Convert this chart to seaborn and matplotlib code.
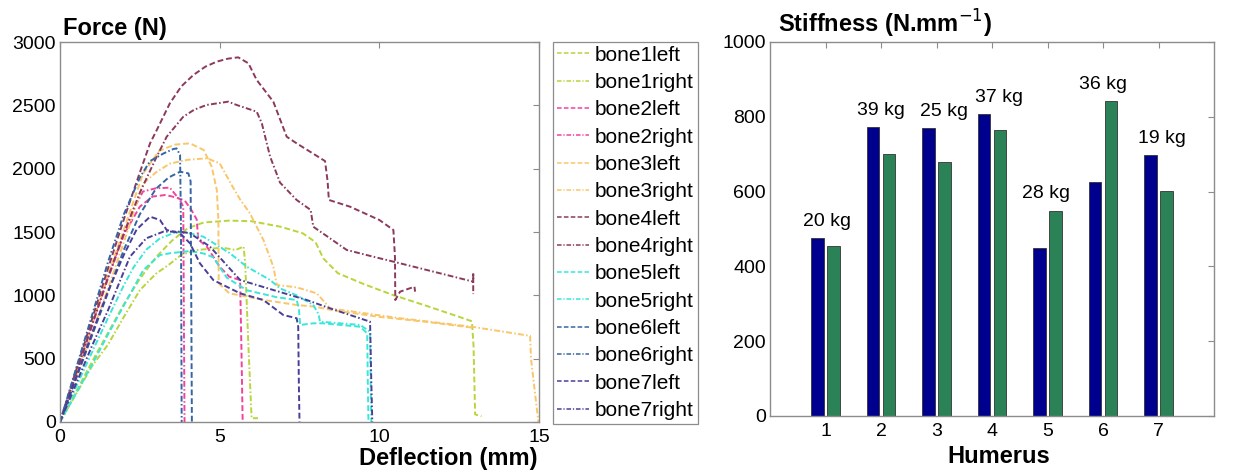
import matplotlib
matplotlib.use("Agg")
import matplotlib.pyplot as plt
import numpy as np
import pandas as pd
import seaborn as sns

# ---------------- data: force-deflection curves (mm, N) ----------------
bone1left_x = [0, 1.0, 2.0, 2.5, 3.0, 3.5, 4.0, 4.5, 5.3, 6.0, 6.9, 7.6, 8.0, 8.25, 8.7, 9.5, 10.4, 11.5, 12.5, 12.9, 12.95, 13.0, 13.2]
bone1left_y = [0, 475, 930, 1130, 1300, 1430, 1530, 1575, 1590, 1585, 1542, 1490, 1420, 1290, 1175, 1090, 1005, 915, 830, 795, 600, 60, 45]

bone1right_x = [0, 1.0, 1.5, 2.0, 2.5, 3.0, 3.4, 3.8, 4.3, 4.8, 5.1, 5.5, 5.75, 5.8, 5.9, 6.0, 6.2]
bone1right_y = [0, 440, 610, 830, 1040, 1170, 1240, 1320, 1358, 1370, 1376, 1358, 1385, 1250, 600, 30, 30]

bone2left_x = [0, 1.0, 1.5, 2.0, 2.5, 2.9, 3.3, 3.6, 3.9, 4.1, 4.28, 4.33, 4.6, 5.0, 5.3, 5.64, 5.68, 5.72]
bone2left_y = [0, 770, 1150, 1480, 1700, 1780, 1792, 1775, 1750, 1680, 1600, 1440, 1384, 1226, 1147, 1121, 600, 0]

bone2right_x = [0, 1.0, 1.5, 2.0, 2.3, 2.6, 3.0, 3.44, 3.6, 3.76, 3.86, 3.88, 3.9]
bone2right_y = [0, 760, 1130, 1480, 1680, 1820, 1845, 1850, 1800, 1750, 1700, 800, 0]

bone3left_x = [0, 1.0, 1.5, 2.0, 2.6, 3.1, 3.6, 4.07, 4.5, 4.75, 4.91, 4.96, 4.97, 5.3, 6.4, 7.4, 8.0, 8.5, 10.0, 11.5, 12.9]
bone3left_y = [0, 780, 1160, 1520, 1960, 2140, 2190, 2200, 2147, 2016, 1832, 1595, 1095, 1016, 963, 924, 910, 884, 830, 790, 745]

bone3right_x = [0, 1.0, 1.5, 2.0, 2.6, 3.0, 3.44, 4.0, 4.6, 5.0, 5.4, 5.65, 5.95, 6.05, 6.37, 6.68, 6.79, 7.41, 8.04, 8.46, 10.6, 12.9, 14.72, 14.75, 14.98]
bone3right_y = [0, 700, 1050, 1420, 1880, 1970, 2040, 2070, 2082, 2042, 1860, 1753, 1647, 1595, 1437, 1226, 1082, 1063, 1016, 897, 821, 752, 680, 500, 0]

bone4left_x = [0, 1.0, 1.5, 2.0, 2.5, 2.82, 3.03, 3.44, 3.8, 4.18, 4.55, 4.91, 5.25, 5.58, 5.9, 6.16, 6.68, 7.1, 7.41, 8.3, 8.38, 8.42, 9.08, 10.0, 10.44, 10.49, 10.5, 10.65, 11.1, 11.12]
bone4left_y = [0, 810, 1210, 1600, 1970, 2200, 2305, 2516, 2650, 2740, 2805, 2845, 2868, 2879, 2832, 2700, 2529, 2252, 2200, 2060, 1900, 1753, 1700, 1595, 1516, 1300, 963, 1029, 1068, 1029]

bone4right_x = [0, 1.0, 1.5, 2.0, 2.5, 3.0, 3.34, 3.86, 4.2, 4.59, 5.27, 5.53, 6.16, 6.32, 6.58, 6.89, 7.41, 7.85, 7.93, 8.98, 9.81, 10.44, 11.9, 12.94, 12.94, 12.94]
bone4right_y = [0, 765, 1140, 1490, 1810, 2080, 2252, 2410, 2465, 2503, 2529, 2503, 2450, 2358, 2095, 1890, 1753, 1674, 1542, 1358, 1305, 1266, 1174, 1108, 1180, 1010]

bone5left_x = [0, 1.0, 1.5, 2.0, 2.61, 3.13, 3.44, 4.07, 4.5, 4.8, 5.22, 5.85, 6.79, 7.41, 7.48, 7.52, 7.93, 8.25, 9.4, 9.62, 9.64, 9.66]
bone5left_y = [0, 450, 690, 920, 1200, 1318, 1332, 1350, 1330, 1300, 1140, 1040, 985, 963, 900, 766, 779, 779, 752, 700, 300, 0]

bone5right_x = [0, 1.0, 1.5, 2.0, 2.3, 2.7, 3.13, 3.6, 3.86, 4.49, 5.32, 5.85, 6.58, 6.89, 7.41, 7.93, 8.1, 8.14, 9.4, 9.71, 9.73, 9.75]
bone5right_y = [0, 550, 820, 1080, 1220, 1360, 1450, 1495, 1503, 1463, 1332, 1226, 1121, 1055, 1000, 924, 850, 792, 766, 713, 300, 0]

bone6left_x = [0, 1.0, 1.5, 2.0, 2.5, 3.0, 3.4, 3.76, 4.02, 4.09, 4.11, 4.13]
bone6left_y = [0, 680, 1020, 1360, 1640, 1840, 1930, 1976, 1963, 1900, 1000, 0]

bone6right_x = [0, 1.0, 1.5, 2.0, 2.5, 2.82, 3.24, 3.55, 3.65, 3.76, 3.79, 3.81]
bone6right_y = [0, 840, 1260, 1640, 1930, 2060, 2120, 2155, 2160, 2108, 1500, 0]

bone7left_x = [0, 1.0, 1.5, 2.0, 2.4, 2.82, 3.13, 3.34, 3.76, 4.07, 4.38, 4.8, 5.22, 5.64, 6.37, 6.99, 7.41, 7.46, 7.48, 7.5]
bone7left_y = [0, 700, 1030, 1320, 1520, 1621, 1595, 1516, 1490, 1411, 1253, 1121, 1068, 1016, 963, 845, 819, 752, 300, 0]

bone7right_x = [0, 1.0, 1.5, 2.19, 2.7, 3.24, 3.76, 4.07, 4.7, 5.64, 6.68, 7.73, 8.46, 9.71, 9.75, 9.78]
bone7right_y = [0, 600, 880, 1305, 1450, 1503, 1503, 1490, 1384, 1121, 1042, 963, 897, 792, 300, 0]

curve_names = ["bone1left", "bone1right", "bone2left", "bone2right", "bone3left", "bone3right",
               "bone4left", "bone4right", "bone5left", "bone5right", "bone6left", "bone6right",
               "bone7left", "bone7right"]
curve_x = [bone1left_x, bone1right_x, bone2left_x, bone2right_x, bone3left_x, bone3right_x,
           bone4left_x, bone4right_x, bone5left_x, bone5right_x, bone6left_x, bone6right_x,
           bone7left_x, bone7right_x]
curve_y = [bone1left_y, bone1right_y, bone2left_y, bone2right_y, bone3left_y, bone3right_y,
           bone4left_y, bone4right_y, bone5left_y, bone5right_y, bone6left_y, bone6right_y,
           bone7left_y, bone7right_y]

# ---------------- data: stiffness bars ----------------
humerus = ["1", "2", "3", "4", "5", "6", "7"]
stiffness_left = [476, 773, 770, 807, 449, 626, 698]
stiffness_right = [454, 701, 678, 764, 549, 842, 601]
mass_labels = ["20 kg", "39 kg", "25 kg", "37 kg", "28 kg", "36 kg", "19 kg"]

# ---------------- styles ----------------
bone_colors = ["#b7d63c", "#f0449c", "#f9c66a", "#8b3a5c", "#3ae6d9", "#3465a4", "#4a3f98"]
dash_style = (0, (3.0, 1.5))
dashdot_style = (0, (3.0, 1.2, 0.8, 1.2))
bar_colors = ["#00008f", "#2b8257"]
label_dx = [0.03, -0.01, 0.13, 0.13, -0.03, 0.0, 0.07]

sns.set_style("white")
plt.rcParams["font.family"] = ["Liberation Sans", "DejaVu Sans"]
plt.rcParams["text.color"] = "black"
plt.rcParams["mathtext.default"] = "bf"

W, H = 1259, 471
fig = plt.figure(figsize=(W / 100, H / 100), dpi=100)
ax1 = fig.add_axes([60 / W, 1 - 422 / H, 479 / W, 380 / H])
ax2 = fig.add_axes([770 / W, 1 - 416 / H, 444 / W, 374 / H])

# ---- left panel: curves ----
for i, (name, xs, ys) in enumerate(zip(curve_names, curve_x, curve_y)):
    ls = dash_style if name.endswith("left") else dashdot_style
    sns.lineplot(x=xs, y=ys, ax=ax1, color=bone_colors[i // 2], linestyle=ls,
                 linewidth=1.4, sort=False, estimator=None, label=name)

ax1.set_xlim(0, 15)
ax1.set_ylim(0, 3000)
ax1.set_xticks([0, 5, 10, 15])
ax1.set_yticks(np.arange(0, 3001, 500))
ax1.set_xlabel("")
ax1.set_ylabel("")

leg = ax1.legend(loc="upper left", bbox_to_anchor=(553 / W, 1 - 41.5 / H),
                 bbox_transform=fig.transFigure, borderaxespad=0, fontsize=15,
                 handlelength=1.55, handletextpad=0.25, labelspacing=0.4,
                 borderpad=0.2, fancybox=False, framealpha=1, edgecolor="#8c8c8c")
leg.get_frame().set_linewidth(0.9)
for t in leg.get_texts():
    t.set_color("black")
for h in leg.get_lines():
    h.set_linewidth(1.1)

# ---- right panel: bars ----
df_bar = pd.DataFrame({
    "Humerus": humerus * 2,
    "Stiffness": stiffness_left + stiffness_right,
    "Side": ["left"] * len(humerus) + ["right"] * len(humerus),
})
sns.barplot(data=df_bar, x="Humerus", y="Stiffness", hue="Side", palette=bar_colors,
            width=0.572, gap=0.2, saturation=1, errorbar=None, edgecolor="#333333",
            linewidth=0.6, ax=ax2, legend=False)
ax2.set_xlim(-1, 7)
ax2.set_ylim(0, 1000)
ax2.set_yticks(np.arange(0, 1001, 200))
ax2.set_xlabel("")
ax2.set_ylabel("")
for i, lab in enumerate(mass_labels):
    top = max(stiffness_left[i], stiffness_right[i])
    ax2.text(i + label_dx[i], top + 45, lab, ha="center", va="center", fontsize=14, color="black")

for ax in (ax1, ax2):
    for sp in ax.spines.values():
        sp.set_visible(True)
        sp.set_color("#8c8c8c")
        sp.set_linewidth(1.0)
    ax.tick_params(direction="in", top=True, right=True, length=4, width=0.8,
                   color="#8c8c8c", labelsize=14, labelcolor="black")
    ax.tick_params(axis="x", pad=5)
    ax.tick_params(axis="y", pad=3)
    ax.grid(False)

# titles and labels
fig.text(63 / W, 1 - 35 / H, "Force (N)", fontsize=17, fontweight="bold", ha="left", va="baseline")
fig.text(778 / W, 1 - 33 / H, r"Stiffness (N.mm$^{\mathsf{-1}}$)", fontsize=17, fontweight="bold",
         ha="left", va="baseline")
fig.text(448 / W, 1 - 465 / H, "Deflection (mm)", fontsize=17, fontweight="bold", ha="center", va="baseline")
fig.text(999 / W, 1 - 463 / H, "Humerus", fontsize=17, fontweight="bold", ha="center", va="baseline")

fig.savefig("out.png", dpi=100)
